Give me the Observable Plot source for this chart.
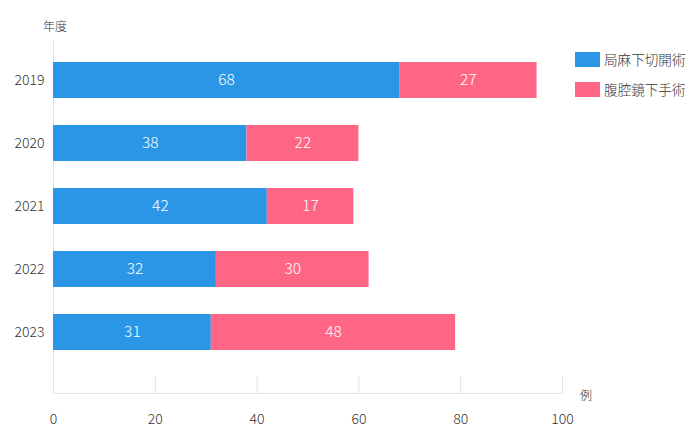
<!DOCTYPE html>
<html>
<head>
<meta charset="utf-8">
<script src="https://cdn.jsdelivr.net/npm/d3@7"></script>
<script src="https://cdn.jsdelivr.net/npm/@observablehq/plot@0.6"></script>
<style>
  body { margin: 0; background: #fff; font-family: "Noto Sans CJK JP", "Noto Sans", sans-serif; }
  #wrap { position: relative; width: 687px; height: 440px; }
  .lab { position: absolute; font-size: 12px; color: #333; font-weight: 300; }
  #legend { position: absolute; left: 575px; top: 51px; font-size: 13.6px; color: #333; font-weight: 300; }
  .item { display: flex; align-items: center; height: 16px; margin-bottom: 14px; }
  .sw { width: 25px; height: 15px; margin-right: 4px; }
</style>
</head>
<body>
<div id="wrap">
  <div class="lab" style="left:43px; top:17px;">年度</div>
  <div class="lab" style="left:580px; top:386px;">例</div>
  <div id="legend"></div>
</div>
<script>
const years = ["2019", "2020", "2021", "2022", "2023"];
const seriesNames = ["局麻下切開術", "腹腔鏡下手術"];
const localValues = [68, 38, 42, 32, 31];
const laparoValues = [27, 22, 17, 30, 48];
const colors = ["#2b95e6", "#ff6685"];
const xTicks = [0, 20, 40, 60, 80, 100];

const data = [];
years.forEach((y, i) => {
  data.push({year: y, series: seriesNames[0], value: localValues[i]});
  data.push({year: y, series: seriesNames[1], value: laparoValues[i]});
});

const chart = Plot.plot({
  width: 687,
  height: 440,
  marginLeft: 53,
  marginRight: 125,
  marginTop: 40,
  marginBottom: 47,
  style: {fontFamily: '"Noto Sans CJK JP", "Noto Sans", sans-serif', fontSize: "14px", fontWeight: 300, color: "#333"},
  x: {domain: [0, 100]},
  y: {domain: years, range: [33.5, 378.5], padding: 0.433},
  color: {domain: seriesNames, range: colors},
  marks: [
    Plot.ruleX(xTicks.slice(1), {stroke: "#e3e3e3", strokeWidth: 1, insetTop: 336}),
    Plot.ruleX([0], {stroke: "#e3e3e3", strokeWidth: 1}),
    Plot.frame({anchor: "bottom", stroke: "#e3e3e3", strokeWidth: 1}),
    Plot.barX(data, Plot.stackX({x: "value", y: "year", fill: "series", order: null})),
    Plot.text(data, Plot.stackX({x: "value", y: "year", text: d => String(d.value), order: null, fill: "white", fontSize: 15.5})),
    Plot.axisX({ticks: xTicks, tickSize: 0, tickPadding: 21, label: null, fontSize: 14, fill: "#333"}),
    Plot.axisY({tickSize: 0, tickPadding: 9, label: null, fontSize: 14, fill: "#333"})
  ]
});
document.getElementById("wrap").prepend(chart);
chart.style.position = "absolute";
chart.style.left = "0";
chart.style.top = "0";

const legend = document.getElementById("legend");
seriesNames.forEach((s, i) => {
  const it = document.createElement("div");
  it.className = "item";
  const sw = document.createElement("div");
  sw.className = "sw";
  sw.style.background = colors[i];
  const t = document.createElement("span");
  t.textContent = s;
  it.append(sw, t);
  legend.append(it);
});
</script>
</body>
</html>
